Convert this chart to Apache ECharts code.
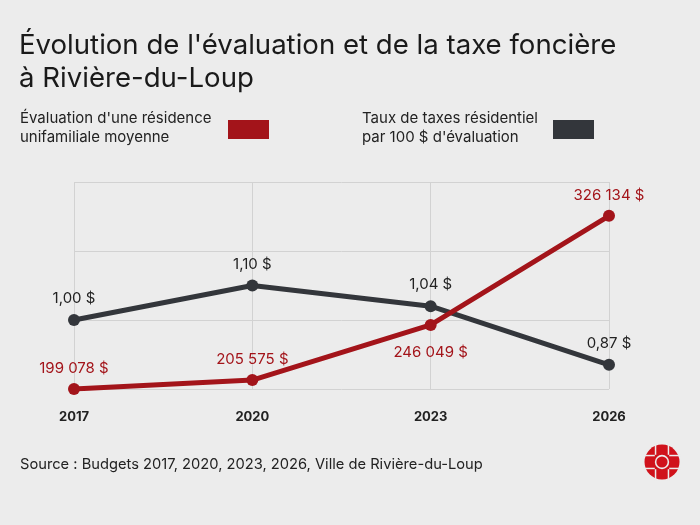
<!DOCTYPE html>
<html>
<head>
<meta charset="utf-8">
<script src="https://cdn.jsdelivr.net/npm/echarts@6/dist/echarts.min.js"></script>
<style>
html,body{margin:0;padding:0;background:#ececec;}
#c{width:700px;height:525px;}
</style>
</head>
<body>
<div id="c"></div>
<script>
var years = ['2017', '2020', '2023', '2026'];
var evaluation = [199078, 205575, 246049, 326134];
var taxRate = [1.00, 1.10, 1.04, 0.87];
var rateTicks = [0.8, 1.0, 1.2, 1.4];

var RED = '#a3141a';
var DARK = '#33363b';
var FONT = 'Inter, Roboto, "Noto Sans", sans-serif';
var redLabelPos = ['top', 'top', 'bottom', 'top'];
var redLabelDist = [7, 7, 14, 7];

function fmtMoney(v) {
  return String(v).replace(/\B(?=(\d{3})+(?!\d))/g, ' ') + ' $';
}
function fmtRate(v) {
  return v.toFixed(2).replace('.', ',') + ' $';
}

var chart = echarts.init(document.getElementById('c'));

var redData = evaluation.map(function (v, i) {
  return { value: v, label: { position: redLabelPos[i], distance: redLabelDist[i] } };
});

var cx = 662, cy = 462;
var BG = '#ececec';
var logo = [
  { type: 'circle', shape: { cx: cx, cy: cy, r: 17.5 }, style: { fill: '#d0121b' } },
  { type: 'circle', shape: { cx: cx, cy: cy, r: 7.2 }, style: { fill: BG } },
  { type: 'circle', shape: { cx: cx, cy: cy, r: 5.6 }, style: { fill: '#d0121b' } },
  { type: 'rect', shape: { x: cx - 7.2, y: cy - 19, width: 1.5, height: 11.8 }, style: { fill: BG } },
  { type: 'rect', shape: { x: cx + 5.7, y: cy - 19, width: 1.5, height: 11.8 }, style: { fill: BG } },
  { type: 'rect', shape: { x: cx - 7.2, y: cy + 7.2, width: 1.5, height: 11.8 }, style: { fill: BG } },
  { type: 'rect', shape: { x: cx + 5.7, y: cy + 7.2, width: 1.5, height: 11.8 }, style: { fill: BG } },
  { type: 'rect', shape: { x: cx - 19, y: cy - 7.2, width: 11.8, height: 1.5 }, style: { fill: BG } },
  { type: 'rect', shape: { x: cx - 19, y: cy + 5.7, width: 11.8, height: 1.5 }, style: { fill: BG } },
  { type: 'rect', shape: { x: cx + 7.2, y: cy - 7.2, width: 11.8, height: 1.5 }, style: { fill: BG } },
  { type: 'rect', shape: { x: cx + 7.2, y: cy + 5.7, width: 11.8, height: 1.5 }, style: { fill: BG } }
];

chart.setOption({
  backgroundColor: BG,
  animation: false,
  textStyle: { fontFamily: FONT },
  title: {
    text: "Évolution de l'évaluation et de la taxe foncière\nà Rivière-du-Loup",
    left: 14, top: 24,
    textStyle: { fontFamily: FONT, fontSize: 27.6, fontWeight: 'normal', color: '#1a1a1a', lineHeight: 33 }
  },
  graphic: [
    { type: 'text', left: 20, top: 109, style: { text: "Évaluation d'une résidence\nunifamiliale moyenne", fontFamily: FONT, fontSize: 15, lineHeight: 19, fill: '#222' } },
    { type: 'rect', shape: { x: 228, y: 120, width: 41, height: 19 }, style: { fill: RED } },
    { type: 'text', left: 362, top: 109, style: { text: "Taux de taxes résidentiel\npar 100 $ d'évaluation", fontFamily: FONT, fontSize: 15, lineHeight: 19, fill: '#222' } },
    { type: 'rect', shape: { x: 553, y: 120, width: 41, height: 19 }, style: { fill: DARK } },
    { type: 'text', left: 20, top: 457, style: { text: 'Source : Budgets 2017, 2020, 2023, 2026, Ville de Rivière-du-Loup', fontFamily: FONT, fontSize: 14.7, fill: '#222' } }
  ].concat(logo),
  grid: { left: 74, right: 91, top: 182, bottom: 136, containLabel: false },
  xAxis: {
    type: 'category',
    data: years,
    boundaryGap: false,
    axisLine: { show: false },
    axisTick: { show: false },
    axisLabel: { margin: 22, fontSize: 13, fontWeight: 'bold', color: '#222', fontFamily: FONT },
    splitLine: { show: true, lineStyle: { color: '#d2d2d2', width: 1 } }
  },
  yAxis: [
    {
      type: 'value',
      min: rateTicks[0], max: rateTicks[rateTicks.length - 1], interval: 0.2,
      axisLabel: { show: false }, axisLine: { show: false }, axisTick: { show: false },
      splitLine: { show: true, lineStyle: { color: '#d2d2d2', width: 1 } }
    },
    {
      type: 'value',
      min: 199000, max: 351000,
      axisLabel: { show: false }, axisLine: { show: false }, axisTick: { show: false },
      splitLine: { show: false }
    }
  ],
  series: [
    {
      name: 'Taux', type: 'line', yAxisIndex: 0, data: taxRate,
      symbol: 'circle', symbolSize: 12,
      lineStyle: { color: DARK, width: 5 },
      itemStyle: { color: DARK },
      label: { show: true, position: 'top', distance: 8, fontSize: 15, color: '#222', fontFamily: FONT,
        formatter: function (p) { return fmtRate(p.value); } },
      z: 2
    },
    {
      name: 'Évaluation', type: 'line', yAxisIndex: 1, data: redData,
      symbol: 'circle', symbolSize: 12,
      lineStyle: { color: RED, width: 5 },
      itemStyle: { color: RED },
      label: { show: true, distance: 7, fontSize: 15, color: RED, fontFamily: FONT,
        formatter: function (p) { return fmtMoney(p.value); } },
      z: 3
    }
  ]
});
</script>
</body>
</html>
